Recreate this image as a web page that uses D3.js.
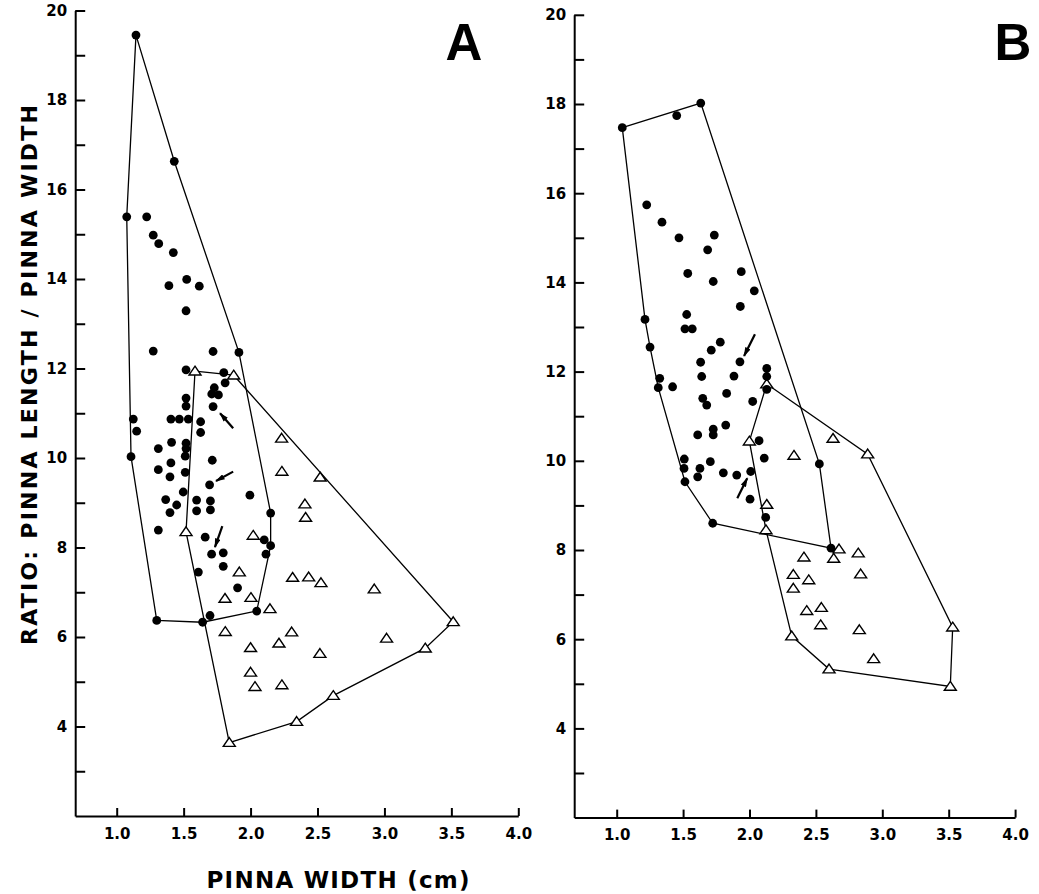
<!DOCTYPE html>
<html>
<head>
<meta charset="utf-8">
<script src="https://cdn.jsdelivr.net/npm/d3@7"></script>
<style>
  body { margin:0; background:#fff; }
  svg { display:block; }
  .axis path, .axis line { stroke:#000; stroke-width:2; }
  .axis text { font-family:"DejaVu Sans", sans-serif; font-weight:bold; font-size:15px; fill:#000; }
  .hull { fill:none; stroke:#000; stroke-width:1.3; }
  .tri { fill:#fff; stroke:#000; stroke-width:1.4; }
  .dot { fill:#000; }
  .arrow { stroke:#000; stroke-width:2.2; }
  .title { font-family:"DejaVu Sans", sans-serif; font-weight:bold; fill:#000; }
</style>
</head>
<body>
<svg id="svg" width="1039" height="894"></svg>
<script>
// ---- panel A ----
const circleHullA = [[1.144,19.45],[1.43,16.63],[1.913,12.36],[2.15,8.77],[2.15,8.04],[2.046,6.58],[1.642,6.33],[1.299,6.37],[1.107,10.03],[1.075,15.39]];
const circlesA = [
  [1.224,15.39],[1.273,14.98],[1.314,14.79],[1.423,14.59],[1.39,13.85],[1.523,13.99],[1.617,13.84],[1.518,13.29],
  [1.273,12.39],[1.72,12.38],[1.518,11.97],[1.80,11.91],[1.81,11.68],[1.729,11.57],[1.71,11.43],[1.76,11.41],[1.72,11.15],
  [1.518,11.34],[1.518,11.16],[1.124,10.87],[1.149,10.6],[1.405,10.87],[1.468,10.87],[1.535,10.87],[1.627,10.81],[1.627,10.57],
  [1.311,10.21],[1.41,10.35],[1.518,10.33],[1.518,10.21],[1.512,10.04],[1.714,9.95],[1.311,9.74],[1.405,9.89],[1.398,9.58],[1.512,9.68],
  [1.694,9.40],[1.497,9.24],[1.995,9.17],[1.366,9.07],[1.448,8.95],[1.398,8.78],[1.597,9.06],[1.597,8.82],[1.70,9.04],[1.70,8.84],
  [1.311,8.39],[1.661,8.23],[2.102,8.17],[2.115,7.85],[1.709,7.85],[1.796,7.88],[1.796,7.58],[1.61,7.45],[1.903,7.10],[1.697,6.48]
];
const triangleHullA = [[1.585,11.94],[1.874,11.85],[3.514,6.34],[3.305,5.75],[2.618,4.69],[2.344,4.11],[1.841,3.64],[1.518,8.35]];
const trianglesA = [
  [2.232,10.44],[2.234,9.70],[2.52,9.57],[2.406,8.97],[2.411,8.67],[2.02,8.27],[1.916,7.45],[2.314,7.33],[2.434,7.34],[2.526,7.21],[2.924,7.07],
  [1.809,6.86],[2.003,6.88],[2.145,6.63],[1.811,6.12],[2.307,6.11],[2.0,5.76],[2.212,5.86],[2.518,5.63],[3.016,5.97],[2.0,5.21],[2.033,4.89],[2.234,4.93]
];
const arrowsA = [[1.87,10.665,1.772,11.0],[1.87,9.695,1.742,9.487],[1.789,8.48,1.734,8.01]]; // tail x,y -> head x,y

// ---- panel B ----
const circleHullB = [[1.042,17.47],[1.633,18.02],[2.526,9.93],[2.614,8.04],[1.723,8.6],[1.514,9.53],[1.313,11.64],[1.251,12.55],[1.213,13.17]];
const circlesB = [
  [1.452,17.74],[1.226,15.74],[1.341,15.35],[1.469,15.0],[1.735,15.06],[1.685,14.73],[1.535,14.2],[1.727,14.02],[1.938,14.24],[2.036,13.81],[1.931,13.46],
  [1.527,13.28],[1.514,12.96],[1.569,12.96],[1.78,12.66],[1.712,12.48],[1.632,12.21],[1.928,12.22],[1.64,11.89],[1.883,11.9],
  [2.13,12.07],[2.13,11.89],[2.13,11.6],[1.324,11.85],[1.421,11.66],[1.828,11.51],[1.648,11.40],[1.678,11.25],[2.024,11.33],
  [1.727,10.71],[1.727,10.58],[1.821,10.8],[1.61,10.58],[2.072,10.45],[2.111,10.06],[1.509,10.04],[1.507,9.83],[1.705,9.98],[1.627,9.83],[1.61,9.64],
  [1.803,9.73],[1.904,9.68],[2.009,9.76],[2.004,9.14],[2.122,8.73]
];
const triangleHullB = [[2.13,11.72],[2.89,10.15],[3.53,6.27],[3.512,4.94],[2.599,5.33],[2.318,6.07],[2.124,8.45],[1.999,10.44]];
const trianglesB = [
  [2.335,10.12],[2.629,10.5],[2.13,9.02],[2.674,8.02],[2.634,7.81],[2.819,7.93],[2.41,7.84],[2.837,7.46],[2.33,7.45],[2.446,7.33],
  [2.33,7.14],[2.541,6.71],[2.431,6.64],[2.536,6.32],[2.827,6.21],[2.935,5.56]
];
const arrowsB = [[2.041,12.84,1.959,12.35],[1.908,9.16,1.983,9.61]];

const xTicks = [1.0,1.5,2.0,2.5,3.0,3.5,4.0];
const yTicks = d3.range(3,21);

const svg = d3.select('#svg');
const defs = svg.append('defs');
defs.append('marker').attr('id','head').attr('viewBox','0 0 10 6').attr('refX',9).attr('refY',3)
  .attr('markerWidth',4.5).attr('markerHeight',2.6).attr('markerUnits','strokeWidth').attr('orient','auto')
  .append('path').attr('d','M0,0 L10,3 L0,6 Z').attr('fill','#000');

const triPath = 'M0,-5 L6,3.8 L-6,3.8 Z';

function panel(o) {
  const x = d3.scaleLinear().domain(o.xd).range(o.xr);
  const y = d3.scaleLinear().domain([2,20]).range(o.yr);
  const g = svg.append('g');

  g.append('g').attr('class','axis').attr('transform',`translate(0,${o.yr[0]})`)
    .call(d3.axisBottom(x).tickValues(xTicks).tickFormat(d3.format('.1f')).tickSizeInner(-8).tickSizeOuter(0).tickPadding(12));
  g.append('g').attr('class','axis').attr('transform',`translate(${o.xr[0]},0)`)
    .call(d3.axisLeft(y).tickValues(yTicks).tickFormat(d => d % 2 === 0 ? d : '').tickSizeInner(-10).tickSizeOuter(0).tickPadding(8));

  const line = d3.line().x(d => x(d[0])).y(d => y(d[1])).curve(d3.curveLinearClosed);
  g.append('path').attr('class','hull').attr('d', line(o.circleHull));
  g.append('path').attr('class','hull').attr('d', line(o.triangleHull));

  g.append('g').selectAll('path').data(o.triangles.concat(o.triangleHull)).join('path')
    .attr('class','tri').attr('d', triPath).attr('transform', d => `translate(${x(d[0])},${y(d[1])})`);
  g.append('g').selectAll('circle').data(o.circles.concat(o.circleHull)).join('circle')
    .attr('class','dot').attr('r',4.4).attr('cx', d => x(d[0])).attr('cy', d => y(d[1]));

  g.append('g').selectAll('line').data(o.arrows).join('line')
    .attr('class','arrow').attr('marker-end','url(#head)')
    .attr('x1', d => x(d[0])).attr('y1', d => y(d[1])).attr('x2', d => x(d[2])).attr('y2', d => y(d[3]));

  g.append('text').attr('class','title').attr('x', o.labelX).attr('y', 60)
    .attr('text-anchor','middle').style('font-family','"Liberation Sans", Arial, sans-serif').style('font-size','51px').text(o.label);
}

panel({ xd:[0.69,4.0], xr:[75.2,518.3], yr:[816,10.5], circles:circlesA, circleHull:circleHullA,
        triangles:trianglesA, triangleHull:triangleHullA, arrows:arrowsA, label:'A', labelX:464 });
panel({ xd:[0.68,4.0], xr:[574.2,1015.1], yr:[817.6,14.8], circles:circlesB, circleHull:circleHullB,
        triangles:trianglesB, triangleHull:triangleHullB, arrows:arrowsB, label:'B', labelX:1013 });

svg.append('text').attr('class','title').attr('transform','translate(37,375) rotate(-90)')
  .attr('text-anchor','middle').style('font-size','22px')
  .attr('textLength',540).attr('lengthAdjust','spacing').text('RATIO: PINNA LENGTH / PINNA WIDTH');
svg.append('text').attr('class','title').attr('x',338).attr('y',888)
  .attr('text-anchor','middle').style('font-size','23px')
  .attr('textLength',263).attr('lengthAdjust','spacing').text('PINNA WIDTH (cm)');
</script>
</body>
</html>
